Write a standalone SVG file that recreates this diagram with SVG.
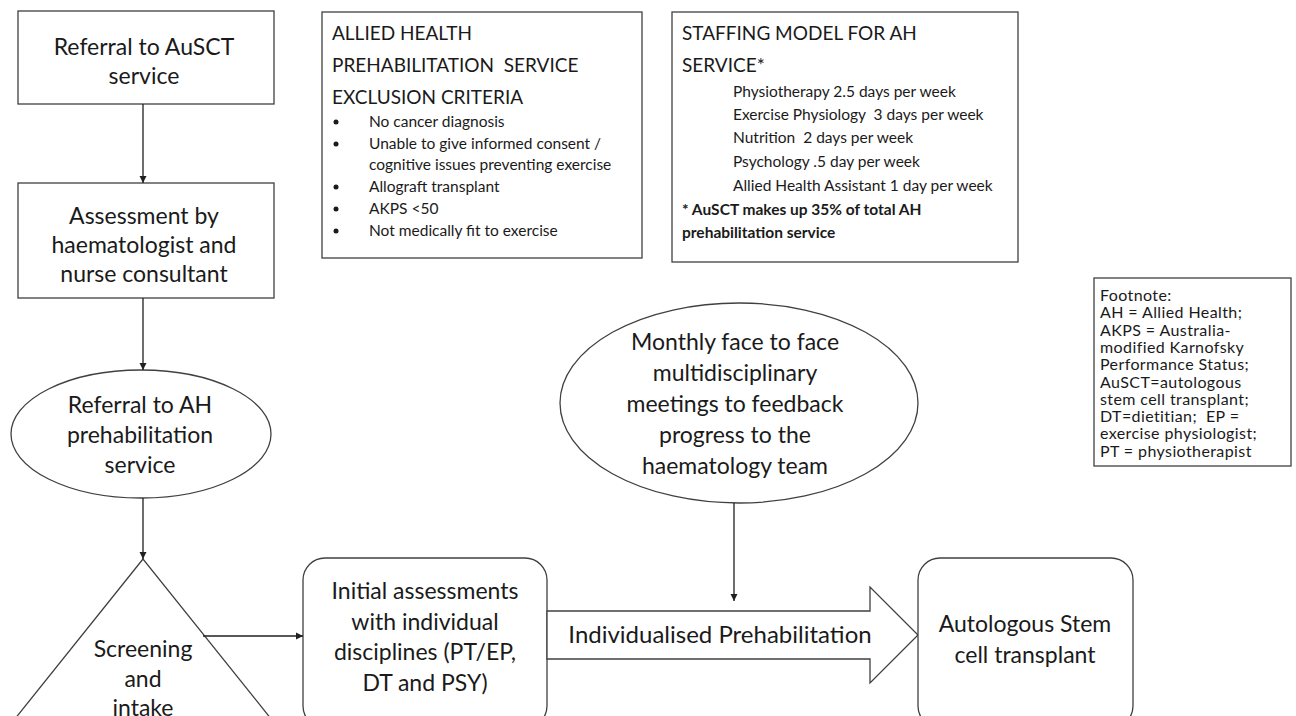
<svg xmlns="http://www.w3.org/2000/svg" width="1296" height="716" viewBox="0 0 1296 716">
<defs>
<style>
.s{fill:#fff;stroke:#404040;stroke-width:1.3}
.t{font-family:Lato,"Liberation Sans",sans-serif;fill:#1a1a1a}
.n{font-size:23px;text-anchor:middle}
.h{font-size:19px}
.i{font-size:15.5px}
.f{font-size:16px;letter-spacing:0.4px}
.c{fill:none;stroke:#202020;stroke-width:1.3}
</style>
<marker id="ah" markerWidth="8" markerHeight="8" refX="7" refY="4" orient="auto" markerUnits="userSpaceOnUse">
<path d="M0,0.5 L7,4 L0,7.5 Z" fill="#202020"/>
</marker>
</defs>
<rect width="1296" height="716" fill="#fff"/>

<g id="referral-ausct">
<rect class="s" x="18" y="11" width="256" height="93"/>
<text class="t n" x="144" y="55">Referral to AuSCT</text>
<text class="t n" x="144" y="84">service</text>
</g>

<g id="assessment">
<rect class="s" x="18" y="183" width="256" height="115"/>
<text class="t n" x="144" y="224">Assessment by</text>
<text class="t n" x="144" y="253">haematologist and</text>
<text class="t n" x="144" y="282">nurse consultant</text>
</g>

<g id="referral-ah">
<ellipse class="s" cx="141" cy="434" rx="130" ry="64"/>
<text class="t n" x="140" y="413">Referral to AH</text>
<text class="t n" x="140" y="443">prehabilitation</text>
<text class="t n" x="140" y="473">service</text>
</g>

<g id="screening">
<polygon class="s" points="143,559 -10,750 296,750"/>
<text class="t n" x="143" y="657">Screening</text>
<text class="t n" x="143" y="687">and</text>
<text class="t n" x="143" y="716">intake</text>
</g>

<g id="initial-assessments">
<rect class="s" x="303" y="558" width="244" height="170" rx="22"/>
<text class="t n" x="425" y="599">Initial assessments</text>
<text class="t n" x="425" y="630">with individual</text>
<text class="t n" x="425" y="660">disciplines (PT/EP,</text>
<text class="t n" x="425" y="691">DT and PSY)</text>
</g>

<g id="individualised-prehab">
<polygon class="s" points="547,611 870,611 870,587 918,635 870,683 870,659 547,659"/>
<text class="t n" x="720" y="643" style="font-size:24px">Individualised Prehabilitation</text>
</g>

<g id="autologous">
<rect class="s" x="918" y="558" width="215" height="170" rx="22"/>
<text class="t n" x="1025" y="632">Autologous Stem</text>
<text class="t n" x="1025" y="663">cell transplant</text>
</g>

<g id="monthly-meetings">
<ellipse class="s" cx="739" cy="403" rx="179" ry="100"/>
<text class="t n" x="735" y="350">Monthly face to face</text>
<text class="t n" x="735" y="381">multidisciplinary</text>
<text class="t n" x="735" y="412">meetings to feedback</text>
<text class="t n" x="735" y="443">progress to the</text>
<text class="t n" x="735" y="474">haematology team</text>
</g>

<g id="exclusion-criteria">
<rect class="s" x="322" y="12" width="320" height="246"/>
<text class="t h" x="332" y="40">ALLIED HEALTH</text>
<text class="t h" x="332" y="72" xml:space="preserve">PREHABILITATION  SERVICE</text>
<text class="t h" x="332" y="104">EXCLUSION CRITERIA</text>
<g fill="#1a1a1a">
<circle cx="336" cy="122" r="2.5"/>
<circle cx="336" cy="144" r="2.5"/>
<circle cx="336" cy="187" r="2.5"/>
<circle cx="336" cy="209" r="2.5"/>
<circle cx="336" cy="231" r="2.5"/>
</g>
<text class="t i" x="369" y="127">No cancer diagnosis</text>
<text class="t i" x="369" y="149">Unable to give informed consent /</text>
<text class="t i" x="369" y="170">cognitive issues preventing exercise</text>
<text class="t i" x="369" y="192">Allograft transplant</text>
<text class="t i" x="369" y="214">AKPS &lt;50</text>
<text class="t i" x="369" y="236">Not medically fit to exercise</text>
</g>

<g id="staffing-model">
<rect class="s" x="672" y="12" width="346" height="250"/>
<text class="t h" x="682" y="40">STAFFING MODEL FOR AH</text>
<text class="t h" x="682" y="72">SERVICE*</text>
<text class="t i" x="733" y="97">Physiotherapy 2.5 days per week</text>
<text class="t i" x="733" y="120" xml:space="preserve">Exercise Physiology  3 days per week</text>
<text class="t i" x="733" y="143" xml:space="preserve">Nutrition  2 days per week</text>
<text class="t i" x="733" y="167">Psychology .5 day per week</text>
<text class="t i" x="733" y="191">Allied Health Assistant 1 day per week</text>
<text class="t i" x="682" y="215" font-weight="bold">* AuSCT makes up 35% of total AH</text>
<text class="t i" x="682" y="238" font-weight="bold">prehabilitation service</text>
</g>

<g id="footnote">
<rect class="s" x="1094" y="278" width="197" height="188"/>
<text class="t f" x="1100" y="301">Footnote:</text>
<text class="t f" x="1100" y="318.3">AH = Allied Health;</text>
<text class="t f" x="1100" y="335.6">AKPS = Australia-</text>
<text class="t f" x="1100" y="352.9">modified Karnofsky</text>
<text class="t f" x="1100" y="370.2">Performance Status;</text>
<text class="t f" x="1100" y="387.5">AuSCT=autologous</text>
<text class="t f" x="1100" y="404.8">stem cell transplant;</text>
<text class="t f" x="1100" y="422.1" xml:space="preserve">DT=dietitian;  EP =</text>
<text class="t f" x="1100" y="439.4">exercise physiologist;</text>
<text class="t f" x="1100" y="456.7">PT = physiotherapist</text>
</g>

<g id="connectors">
<line class="c" x1="143" y1="104" x2="143" y2="183" marker-end="url(#ah)"/>
<line class="c" x1="143" y1="298" x2="143" y2="370" marker-end="url(#ah)"/>
<line class="c" x1="143" y1="498" x2="143" y2="559" marker-end="url(#ah)"/>
<line class="c" x1="203" y1="636" x2="303" y2="636" marker-end="url(#ah)"/>
<line class="c" x1="734" y1="503" x2="734" y2="601" marker-end="url(#ah)"/>
</g>
</svg>
